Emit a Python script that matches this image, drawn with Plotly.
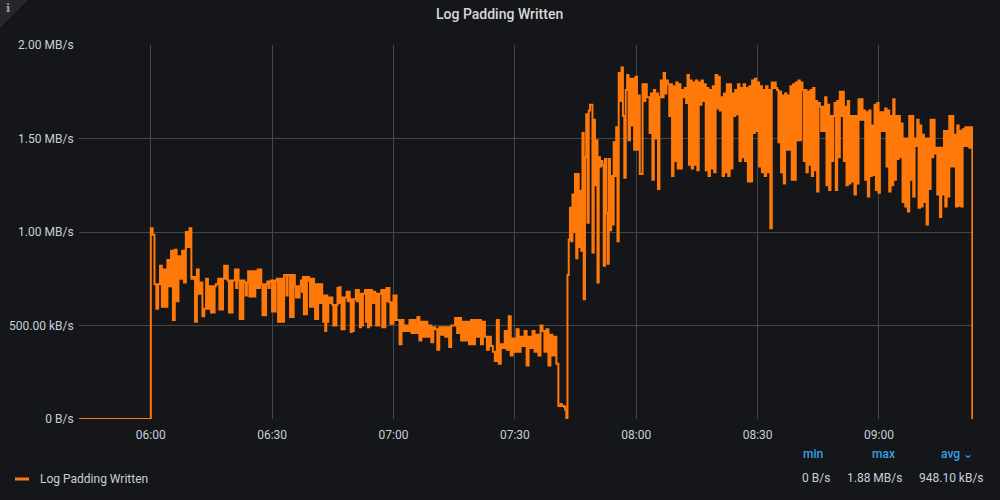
import pandas as pd
import plotly.graph_objects as go

SERIES_NAME = "Log Padding Written"
Y_TICKS = [0, 0.5, 1.0, 1.5, 2.0]
Y_LABELS = ["0 B/s", "500.00 kB/s", "1.00 MB/s", "1.50 MB/s", "2.00 MB/s"]
X_TICKS = ["2021-01-01 06:00", "2021-01-01 06:30", "2021-01-01 07:00", "2021-01-01 07:30",
           "2021-01-01 08:00", "2021-01-01 08:30", "2021-01-01 09:00"]
X_LABELS = ["06:00", "06:30", "07:00", "07:30", "08:00", "08:30", "09:00"]

# values in MB/s
idle_times = ["2021-01-01 05:42:15", "2021-01-01 05:59:55"]
idle_values = [0, 0]

start_times = ("2021-01-01 06:00:00", "2021-01-01 06:14:35")
start_values = [
    1.02, 0.985, 0.72, 0.59, 0.72, 0.82, 0.60, 0.80, 0.60, 0.85, 0.71, 0.90, 0.53, 0.905, 0.63, 0.87,
    0.75, 0.90, 0.73, 1.00, 0.92, 1.02, 0.75, 0.76, 0.52, 0.80, 0.67, 0.73, 0.55, 0.59, 0.75, 0.59,
]

early_times = ("2021-01-01 06:14:35", "2021-01-01 06:37:05")
early_values = [
    0.71, 0.57, 0.71, 0.57, 0.71, 0.72, 0.72, 0.75, 0.585, 0.75, 0.585, 0.75, 0.82, 0.75, 0.82, 0.74,
    0.57, 0.74, 0.57, 0.74, 0.74, 0.80, 0.70, 0.80, 0.74, 0.535, 0.74, 0.535, 0.74, 0.73, 0.66, 0.73,
    0.79, 0.655, 0.79, 0.655, 0.79, 0.655, 0.79, 0.70, 0.80, 0.70, 0.80, 0.72, 0.555, 0.72, 0.555, 0.72,
    0.735, 0.70, 0.735, 0.74, 0.575, 0.74, 0.575, 0.74, 0.75, 0.52, 0.75, 0.52, 0.75, 0.52, 0.77, 0.77,
    0.66, 0.77, 0.77, 0.545, 0.77, 0.545, 0.77, 0.71, 0.65, 0.71, 0.65, 0.71,
]

late_times = ("2021-01-01 06:37:05", "2021-01-01 07:01:00")
late_values = [
    0.74, 0.68, 0.76, 0.56, 0.76, 0.56, 0.76, 0.76, 0.74, 0.60, 0.75, 0.60, 0.75, 0.72, 0.535, 0.72,
    0.535, 0.72, 0.72, 0.62, 0.72, 0.66, 0.52, 0.66, 0.47, 0.66, 0.52, 0.65, 0.65, 0.62, 0.65, 0.61,
    0.50, 0.61, 0.50, 0.61, 0.70, 0.62, 0.705, 0.65, 0.48, 0.65, 0.48, 0.65, 0.65, 0.68, 0.63, 0.68,
    0.64, 0.465, 0.64, 0.47, 0.64, 0.64, 0.69, 0.63, 0.69, 0.67, 0.49, 0.67, 0.50, 0.67, 0.67, 0.69,
    0.52, 0.69, 0.49, 0.69, 0.50, 0.69, 0.68, 0.62, 0.68, 0.67, 0.50, 0.67, 0.50, 0.67, 0.67, 0.69,
    0.49, 0.69, 0.49, 0.69, 0.70, 0.63, 0.70, 0.625, 0.51, 0.625, 0.51, 0.66, 0.53, 0.66, 0.53,
]

dip_times = ("2021-01-01 07:01:00", "2021-01-01 07:40:45")
dip_values = [
    0.53, 0.40, 0.53, 0.47, 0.50, 0.47, 0.53, 0.46, 0.53, 0.46, 0.545, 0.42, 0.52, 0.44, 0.52, 0.44,
    0.50, 0.41, 0.49, 0.48, 0.37, 0.49, 0.45, 0.49, 0.44, 0.49, 0.385, 0.50, 0.50, 0.54, 0.46, 0.54,
    0.42, 0.52, 0.42, 0.52, 0.40, 0.53, 0.40, 0.53, 0.44, 0.53, 0.40, 0.52, 0.44, 0.37, 0.44, 0.39,
    0.36, 0.31, 0.53, 0.295, 0.40, 0.38, 0.47, 0.37, 0.55, 0.34, 0.43, 0.36, 0.48, 0.36, 0.44, 0.39,
    0.47, 0.286, 0.44, 0.38, 0.47, 0.36, 0.45, 0.34, 0.50, 0.47, 0.36, 0.48, 0.286, 0.45, 0.34, 0.44,
    0.295,
]

outage_times = ("2021-01-01 07:40:45", "2021-01-01 07:43:00")
outage_values = [0.07, 0.07, 0.08, 0.07, 0.07, 0.065, 0.05, 0.0]

ramp_times = ("2021-01-01 07:43:00", "2021-01-01 07:55:40")
ramp_values = [
    0.77, 0.96, 1.13, 0.95, 1.20, 1.00, 1.31, 0.86, 1.31, 0.92, 1.22, 0.90, 1.53, 0.64, 1.40, 1.63,
    1.05, 1.65, 1.68, 1.68, 0.89, 1.60, 1.25, 1.49, 0.73, 1.40, 1.35, 1.38, 1.36, 0.82, 1.39, 1.10,
    0.83, 1.39, 1.01, 1.30, 1.04, 1.48, 1.30, 1.56, 0.95,
]

plateau_times = ("2021-01-01 07:55:40", "2021-01-01 08:33:30")
plateau_values = [
    1.85, 1.70, 1.88, 1.62, 1.29, 1.76, 1.84, 1.49, 1.82, 1.57, 1.82, 1.44, 1.83, 1.44, 1.73, 1.31,
    1.31, 1.79, 1.70, 1.79, 1.72, 1.72, 1.53, 1.74, 1.28, 1.76, 1.50, 1.74, 1.23, 1.72, 1.81, 1.72,
    1.85, 1.74, 1.81, 1.79, 1.62, 1.79, 1.30, 1.78, 1.38, 1.80, 1.34, 1.79, 1.34, 1.76, 1.72, 1.77,
    1.69, 1.84, 1.36, 1.81, 1.34, 1.80, 1.36, 1.81, 1.33, 1.80, 1.68, 1.81, 1.70, 1.79, 1.33, 1.77,
    1.30, 1.76, 1.34, 1.78, 1.32, 1.84, 1.66, 1.83, 1.65, 1.72, 1.30, 1.74, 1.32, 1.79, 1.30, 1.79,
    1.34, 1.74, 1.62, 1.76, 1.63, 1.79, 1.38, 1.77, 1.40, 1.79, 1.38, 1.77, 1.27, 1.78, 1.27, 1.81,
    1.53, 1.82, 1.54, 1.80, 1.35, 1.78, 1.32, 1.76, 1.30, 1.78, 1.32, 1.76, 1.02,
]

decline_times = ("2021-01-01 08:33:30", "2021-01-01 09:23:00")
decline_values = [
    1.80, 1.77, 1.80, 1.77, 1.76, 1.48, 1.75, 1.32, 1.73, 1.26, 1.74, 1.44, 1.73, 1.44, 1.78, 1.28,
    1.79, 1.28, 1.80, 1.49, 1.81, 1.49, 1.80, 1.76, 1.38, 1.76, 1.32, 1.75, 1.36, 1.76, 1.30, 1.77,
    1.33, 1.70, 1.216, 1.69, 1.67, 1.54, 1.67, 1.54, 1.72, 1.25, 1.68, 1.225, 1.62, 1.38, 1.62, 1.69,
    1.225, 1.70, 1.40, 1.75, 1.62, 1.75, 1.38, 1.67, 1.25, 1.70, 1.26, 1.62, 1.27, 1.62, 1.20, 1.62,
    1.26, 1.71, 1.60, 1.71, 1.60, 1.65, 1.28, 1.64, 1.19, 1.65, 1.30, 1.57, 1.305, 1.68, 1.225, 1.69,
    1.21, 1.64, 1.54, 1.64, 1.54, 1.66, 1.35, 1.65, 1.216, 1.62, 1.25, 1.71, 1.28, 1.62, 1.39, 1.62,
    1.40, 1.58, 1.16, 1.50, 1.137, 1.50, 1.11, 1.62, 1.28, 1.62, 1.19, 1.50, 1.46, 1.60, 1.13, 1.57,
    1.137, 1.52, 1.16, 1.50, 1.04, 1.50, 1.23, 1.60, 1.40, 1.60, 1.42, 1.45, 1.20, 1.45, 1.08, 1.45,
    1.20, 1.54, 1.137, 1.54, 1.19, 1.62, 1.35, 1.62, 1.35, 1.52, 1.137, 1.57, 1.14, 1.54, 1.137, 1.55,
    1.46, 1.56, 1.46, 1.56, 1.45, 1.56,
]

end_times = ["2021-01-01 09:23:05", "2021-01-01 09:23:15"]
end_values = [0, 0]

stat_headers = ["min", "max", "avg ⌄"]
stat_values = ["0 B/s", "1.88 MB/s", "948.10 kB/s"]


def spread(bounds, values):
    return list(pd.date_range(bounds[0], bounds[1], periods=len(values) + 1)[:-1])


segments = [
    (start_times, start_values), (early_times, early_values), (late_times, late_values),
    (dip_times, dip_values), (outage_times, outage_values), (ramp_times, ramp_values),
    (plateau_times, plateau_values), (decline_times, decline_values),
]
x = list(pd.to_datetime(idle_times))
y = list(idle_values)
for bounds, values in segments:
    x += spread(bounds, values)
    y += values
x += list(pd.to_datetime(end_times))
y += end_values

BG = "#141619"
GRID = "#44464a"
TEXT = "#c7d0d9"
ORANGE = "#ff780a"
BLUE = "#33a2e5"
FONT = "Roboto"
W, H = 1000, 500
L, R, T, B = 79, 27, 45, 81


def px(v):
    return (v - L) / (W - L - R)


def py(v):
    return 1 - (v - T) / (H - T - B)


fig = go.Figure(go.Scatter(
    x=x, y=y, mode="lines", name=SERIES_NAME, cliponaxis=False,
    line=dict(color=ORANGE, width=2, shape="hv"),
    hovertemplate="%{x|%H:%M:%S}<br>%{y:.2f} MB/s<extra></extra>",
))

annotations = [
    dict(x=px(499), y=py(14), xref="paper", yref="paper", text=SERIES_NAME, showarrow=False,
         font=dict(family=FONT, size=14, color="#d8d9da", weight=500), xanchor="center", yanchor="middle"),
    dict(x=px(7.5), y=py(8), xref="paper", yref="paper", text="<b>i</b>", showarrow=False,
         font=dict(family="DejaVu Serif", size=11, color="#9fa1a4"), xanchor="center", yanchor="middle"),
    dict(x=px(38), y=py(479), xref="paper", yref="paper", text=SERIES_NAME, showarrow=False,
         font=dict(family=FONT, size=12, color=TEXT), xanchor="left", yanchor="middle"),
]
for header, hx in zip(stat_headers, [801, 870, 939]):
    annotations.append(dict(x=px(hx), y=py(454), xref="paper", yref="paper", text=header,
                            showarrow=False, font=dict(family=FONT, size=12, color=BLUE, weight=500),
                            xanchor="left", yanchor="middle"))
for value, vx in zip(stat_values, [832, 904, 986]):
    annotations.append(dict(x=px(vx), y=py(478), xref="paper", yref="paper", text=value, showarrow=False,
                            font=dict(family=FONT, size=12, color=TEXT), xanchor="right", yanchor="middle"))

shapes = [
    dict(type="path", xref="paper", yref="paper", layer="below", line_width=0, fillcolor="#25272b",
         path=f"M {px(0)} {py(0)} L {px(28)} {py(0)} L {px(0)} {py(28)} Z"),
    dict(type="line", xref="paper", yref="paper", x0=px(15), x1=px(29), y0=py(479), y1=py(479),
         line=dict(color=ORANGE, width=3)),
]

fig.update_layout(
    width=W, height=H, autosize=False, showlegend=False,
    paper_bgcolor=BG, plot_bgcolor=BG,
    margin=dict(l=L, r=R, t=T, b=B, pad=0, autoexpand=False),
    font=dict(family=FONT, size=12, color=TEXT),
    annotations=annotations, shapes=shapes,
    xaxis=dict(type="date", range=["2021-01-01 05:42:15", "2021-01-01 09:23:15"],
               tickvals=X_TICKS, ticktext=X_LABELS, showgrid=True, gridcolor=GRID, gridwidth=1,
               zeroline=False, showline=False, ticks="outside", ticklen=5, tickcolor=BG,
               tickfont=dict(family=FONT, size=12, color=TEXT)),
    yaxis=dict(range=[0, 2], tickvals=Y_TICKS, ticktext=Y_LABELS, showgrid=True, gridcolor=GRID, gridwidth=1,
               zeroline=False, showline=False, ticks="outside", ticklen=2, tickcolor=BG,
               tickfont=dict(family=FONT, size=12, color=TEXT)),
)

fig.write_html(
    "out.html",
    config={"displayModeBar": False},
    post_script="document.body.style.margin='0';document.body.style.background='#141619';"
                "document.documentElement.style.overflow='hidden';",
)
